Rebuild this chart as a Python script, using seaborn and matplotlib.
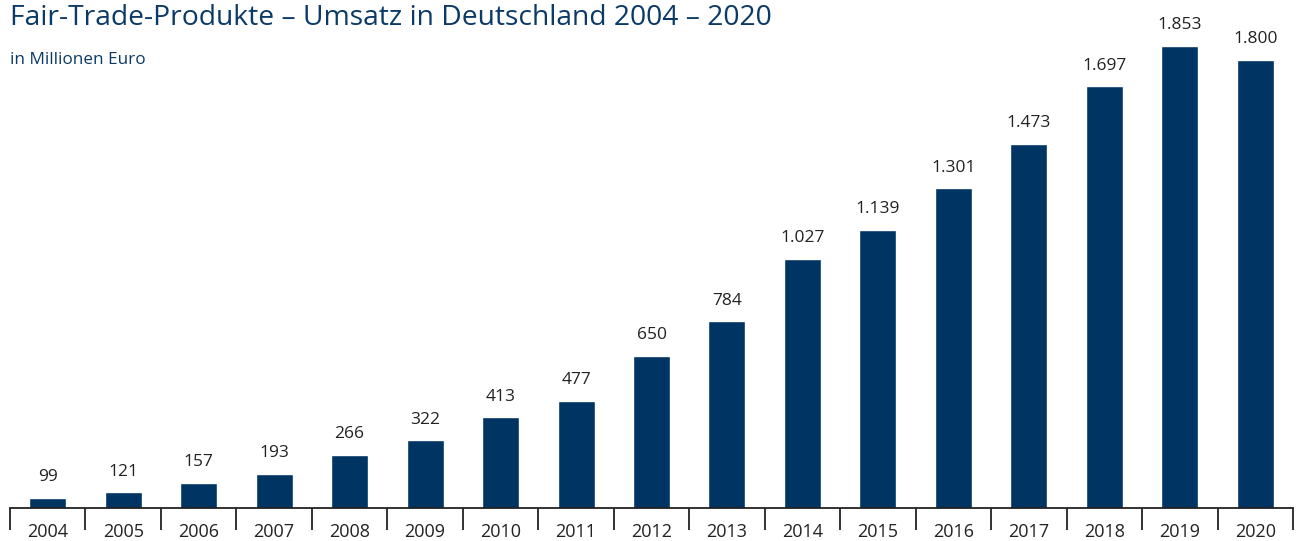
import matplotlib
matplotlib.use("Agg")
import matplotlib.pyplot as plt
import seaborn as sns
import pandas as pd
import numpy as np

# Umsatz Fair-Trade-Produkte in Deutschland, Mio. Euro
jahre = ["2004", "2005", "2006", "2007", "2008", "2009", "2010", "2011", "2012",
         "2013", "2014", "2015", "2016", "2017", "2018", "2019", "2020"]
umsatz = [99, 121, 157, 193, 266, 322, 413, 477, 650,
          784, 1027, 1139, 1301, 1473, 1697, 1853, 1800]

navy = "#003463"
grau = "#222222"

sns.set_style("white")
plt.rcParams["font.family"] = ["Open Sans", "DejaVu Sans"]

df = pd.DataFrame({"Jahr": jahre, "Umsatz": umsatz})

fig = plt.figure(figsize=(13, 5.41), dpi=100)
ax = fig.add_axes([10 / 1300, 33 / 541, 1283 / 1300, 508 / 541])
sns.barplot(data=df, x="Jahr", y="Umsatz", color=navy, width=0.49,
            saturation=1, ax=ax)

ax.set_xlim(-0.5, len(jahre) - 0.5)
ax.set_ylim(60, 2031)

# Werte ueber den Balken, deutsches Tausendertrennzeichen
for i, v in enumerate(umsatz):
    txt = f"{v:,}".replace(",", ".")
    ax.annotate(txt, (i, v), xytext=(0, 9), textcoords="offset points",
                ha="center", va="bottom", fontsize=12.5, color=grau)

# Achse mit Trennstrichen zwischen den Jahren
sns.despine(ax=ax, left=True)
ax.spines["bottom"].set_color(grau)
ax.spines["bottom"].set_linewidth(1.3)
ax.set_yticks([])
ax.set_xlabel("")
ax.set_ylabel("")
ax.tick_params(axis="x", which="major", length=0, pad=10.5, labelsize=13,
               labelcolor=grau, bottom=False)
ax.set_xticks(np.arange(-0.5, len(jahre)), minor=True)
ax.tick_params(axis="x", which="minor", length=16, width=1.3, color=grau,
               direction="out", bottom=True)

fig.text(10 / 1300, 1 - 18 / 541, "Fair-Trade-Produkte – Umsatz in Deutschland 2004 – 2020",
         fontsize=20.3, color="#0b3a68", va="center", ha="left")
fig.text(10 / 1300, 1 - 60 / 541, "in Millionen Euro",
         fontsize=12.3, color="#0b3a68", va="center", ha="left")

fig.savefig("out.png", dpi=100)
